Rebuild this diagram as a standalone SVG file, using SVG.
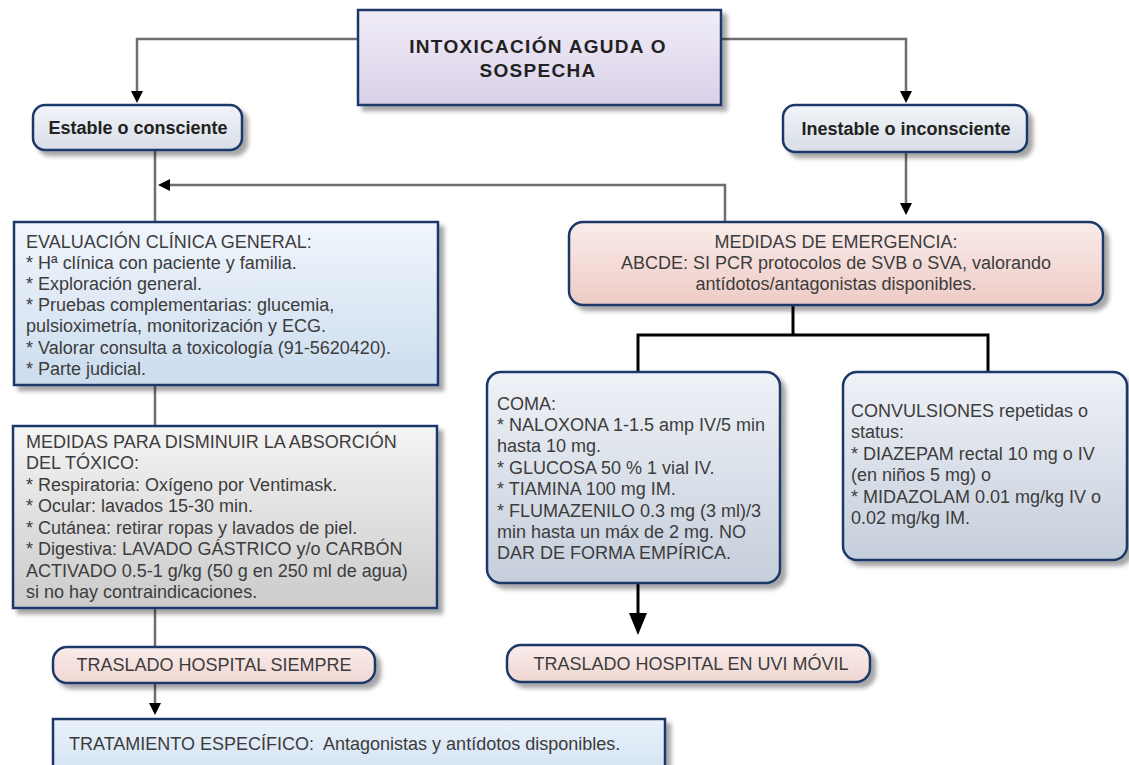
<svg xmlns="http://www.w3.org/2000/svg" width="1129" height="765" viewBox="0 0 1129 765">
<defs>
<style>
.box{stroke:#1b3868;stroke-width:2.5;filter:url(#sh)}
.t{font-family:"Liberation Sans",Arial,sans-serif;font-size:18px;fill:#3c3c3c}
.b{font-family:"Liberation Sans",Arial,sans-serif;font-weight:bold;fill:#222}
.c{text-anchor:middle}
.g{fill:none;stroke:#6e6e6e;stroke-width:2.5}
.k{fill:none;stroke:#000;stroke-width:3}
</style>
<filter id="sh" x="-10%" y="-10%" width="130%" height="140%">
<feDropShadow dx="5" dy="5" stdDeviation="2" flood-color="#000" flood-opacity="0.35"/>
</filter>
<marker id="a" viewBox="0 0 12 12" markerWidth="12" markerHeight="12" refX="0" refY="6" orient="auto" markerUnits="userSpaceOnUse"><path d="M0,0 L12,6 L0,12 z" fill="#000"/></marker>
<marker id="A" viewBox="0 0 22 18" markerWidth="22" markerHeight="18" refX="0" refY="9" orient="auto" markerUnits="userSpaceOnUse"><path d="M0,0 L22,9 L0,18 z" fill="#000"/></marker>
<linearGradient id="gLav" x1="0" y1="0" x2="0" y2="1"><stop offset="0" stop-color="#f1edf8"/><stop offset="1" stop-color="#d9d0e8"/></linearGradient>
<linearGradient id="gGry" x1="0" y1="0" x2="0" y2="1"><stop offset="0" stop-color="#f2f4f8"/><stop offset="1" stop-color="#d8dde7"/></linearGradient>
<linearGradient id="gBlu" x1="0" y1="0" x2="0" y2="1"><stop offset="0" stop-color="#f1f6fc"/><stop offset="1" stop-color="#cbdcee"/></linearGradient>
<linearGradient id="gPnk" x1="0" y1="0" x2="0" y2="1"><stop offset="0" stop-color="#f9ecea"/><stop offset="1" stop-color="#eecbc5"/></linearGradient>
<linearGradient id="gSlt" x1="0" y1="0" x2="0" y2="1"><stop offset="0" stop-color="#eff2f7"/><stop offset="1" stop-color="#c5cedb"/></linearGradient>
<linearGradient id="gSil" x1="0" y1="0" x2="0" y2="1"><stop offset="0" stop-color="#f4f4f4"/><stop offset="1" stop-color="#cbcbcb"/></linearGradient>
<linearGradient id="gPk2" x1="0" y1="0" x2="0" y2="1"><stop offset="0" stop-color="#f9ecea"/><stop offset="1" stop-color="#f0d6d2"/></linearGradient>
<linearGradient id="gBl2" x1="0" y1="0" x2="0" y2="1"><stop offset="0" stop-color="#eaf2fb"/><stop offset="1" stop-color="#d2e2f2"/></linearGradient>
</defs>
<rect width="1129" height="765" fill="#fff"/>

<g id="connectors">
<path class="g" d="M358,39 H137 V91" marker-end="url(#a)"/>
<path class="g" d="M721,39 H906 V91" marker-end="url(#a)"/>
<path class="g" d="M155,150 V222"/>
<path class="g" d="M725,222 V185 H170" marker-end="url(#a)"/>
<path class="g" d="M906,152 V203" marker-end="url(#a)"/>
<path class="g" d="M155,385 V426"/>
<path class="g" d="M155,608 V647"/>
<path class="g" d="M155,683 V703" marker-end="url(#a)"/>
<path class="k" d="M793,305 V335"/>
<path class="k" d="M638,372 V335 H988 V372"/>
<path class="k" d="M638,583 V613" marker-end="url(#A)"/>
</g>

<g id="n-titulo">
<rect class="box" x="358" y="10" width="363" height="95" fill="url(#gLav)"/>
<text class="b c" font-size="19" letter-spacing="1.3" x="538" y="53">INTOXICACIÓN AGUDA O</text>
<text class="b c" font-size="19" letter-spacing="1.3" x="538" y="77">SOSPECHA</text>
</g>

<g id="n-estable">
<rect class="box" x="33" y="105" width="209" height="45" rx="12" fill="url(#gGry)"/>
<text class="b c" font-size="18" x="138" y="134">Estable o consciente</text>
</g>

<g id="n-inestable">
<rect class="box" x="783" y="105" width="244" height="47" rx="12" fill="url(#gGry)"/>
<text class="b c" font-size="18" x="906" y="135">Inestable o inconsciente</text>
</g>

<g id="n-evaluacion">
<rect class="box" x="14" y="222" width="424" height="163" fill="url(#gBlu)"/>
<text class="t" x="26" y="248">EVALUACIÓN CLÍNICA GENERAL:</text>
<text class="t" x="26" y="269">* Hª clínica con paciente y familia.</text>
<text class="t" x="26" y="290">* Exploración general.</text>
<text class="t" x="26" y="311">* Pruebas complementarias: glucemia,</text>
<text class="t" x="26" y="332">pulsioximetría, monitorización y ECG.</text>
<text class="t" x="26" y="354">* Valorar consulta a toxicología (91-5620420).</text>
<text class="t" x="26" y="375">* Parte judicial.</text>
</g>

<g id="n-emergencia">
<rect class="box" x="569" y="222" width="534" height="83" rx="14" fill="url(#gPnk)"/>
<text class="t c" x="836" y="248">MEDIDAS DE EMERGENCIA:</text>
<text class="t c" x="836" y="269">ABCDE: SI PCR protocolos de SVB o SVA, valorando</text>
<text class="t c" x="836" y="290">antídotos/antagonistas disponibles.</text>
</g>

<g id="n-absorcion">
<rect class="box" x="13" y="426" width="424" height="182" fill="url(#gSil)"/>
<text class="t" x="26" y="448">MEDIDAS PARA DISMINUIR LA ABSORCIÓN</text>
<text class="t" x="26" y="469">DEL TÓXICO:</text>
<text class="t" x="26" y="491">* Respiratoria: Oxígeno por Ventimask.</text>
<text class="t" x="26" y="512">* Ocular: lavados 15-30 min.</text>
<text class="t" x="26" y="534">* Cutánea: retirar ropas y lavados de piel.</text>
<text class="t" x="26" y="555">* Digestiva: LAVADO GÁSTRICO y/o CARBÓN</text>
<text class="t" x="26" y="577">ACTIVADO 0.5-1 g/kg (50 g en 250 ml de agua)</text>
<text class="t" x="26" y="598">si no hay contraindicaciones.</text>
</g>

<g id="n-coma">
<rect class="box" x="487" y="372" width="293" height="211" rx="14" fill="url(#gSlt)"/>
<text class="t" x="497" y="410">COMA:</text>
<text class="t" x="497" y="431">* NALOXONA 1-1.5 amp IV/5 min</text>
<text class="t" x="497" y="452">hasta 10 mg.</text>
<text class="t" x="497" y="474">* GLUCOSA 50 % 1 vial IV.</text>
<text class="t" x="497" y="495">* TIAMINA 100 mg IM.</text>
<text class="t" x="497" y="517">* FLUMAZENILO 0.3 mg (3 ml)/3</text>
<text class="t" x="497" y="538">min hasta un máx de 2 mg. NO</text>
<text class="t" x="497" y="559">DAR DE FORMA EMPÍRICA.</text>
</g>

<g id="n-convulsiones">
<rect class="box" x="843" y="372" width="284" height="188" rx="14" fill="url(#gSlt)"/>
<text class="t" x="851" y="417">CONVULSIONES repetidas o</text>
<text class="t" x="851" y="438">status:</text>
<text class="t" x="851" y="460">* DIAZEPAM rectal 10 mg o IV</text>
<text class="t" x="851" y="481">(en niños 5 mg) o</text>
<text class="t" x="851" y="503">* MIDAZOLAM 0.01 mg/kg IV o</text>
<text class="t" x="851" y="524">0.02 mg/kg IM.</text>
</g>

<g id="n-traslado-siempre">
<rect class="box" x="53" y="647" width="322" height="36" rx="14" fill="url(#gPk2)"/>
<text class="t c" x="214" y="671">TRASLADO HOSPITAL SIEMPRE</text>
</g>

<g id="n-traslado-uvi">
<rect class="box" x="507" y="645" width="363" height="37" rx="14" fill="url(#gPk2)"/>
<text class="t c" x="691" y="670">TRASLADO HOSPITAL EN UVI MÓVIL</text>
</g>

<g id="n-tratamiento">
<rect class="box" x="53" y="719" width="612" height="56" fill="url(#gBl2)"/>
<text class="t" x="69" y="750" xml:space="preserve">TRATAMIENTO ESPECÍFICO:  Antagonistas y antídotos disponibles.</text>
</g>
</svg>
